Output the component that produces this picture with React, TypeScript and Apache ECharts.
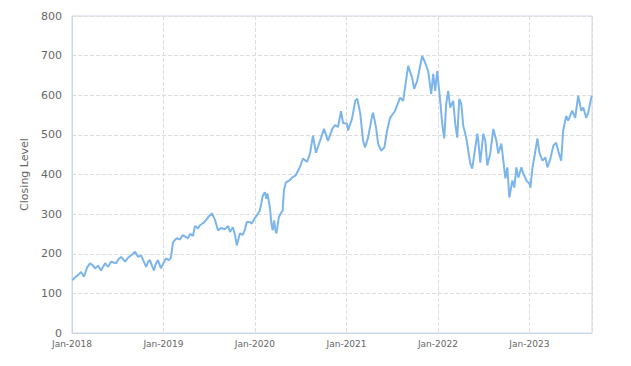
import React, { useEffect, useRef } from "react";
import * as echarts from "echarts";

const dates: string[] = [
  "2018-01-02","2018-01-13","2018-01-25","2018-02-06","2018-02-18","2018-03-02","2018-03-14","2018-03-26",
  "2018-04-03","2018-04-15","2018-04-27","2018-05-13","2018-05-25","2018-06-06","2018-06-26","2018-07-04",
  "2018-07-16","2018-08-01","2018-08-13","2018-08-25","2018-09-10","2018-09-22","2018-10-04","2018-10-12",
  "2018-10-24","2018-11-01","2018-11-08","2018-11-16","2018-11-24","2018-12-02","2018-12-10","2018-12-22",
  "2018-12-31",
  "2019-01-11","2019-01-23","2019-01-31","2019-02-08","2019-02-16","2019-02-24","2019-03-08","2019-03-19",
  "2019-04-01","2019-04-09","2019-04-17","2019-04-29","2019-05-07","2019-05-19","2019-05-27","2019-06-08",
  "2019-06-20","2019-06-28","2019-07-14","2019-07-26","2019-08-07","2019-08-19","2019-09-04","2019-09-16",
  "2019-09-24","2019-10-05","2019-10-13","2019-10-21","2019-11-02","2019-11-14","2019-11-22","2019-11-30",
  "2019-12-12","2019-12-20",
  "2020-01-01","2020-01-09","2020-01-21","2020-02-02","2020-02-10","2020-02-16","2020-02-20","2020-03-01",
  "2020-03-07","2020-03-12","2020-03-18","2020-03-22","2020-03-27","2020-04-06","2020-04-14","2020-04-21",
  "2020-04-26","2020-05-04","2020-05-18","2020-05-30","2020-06-11","2020-06-29","2020-07-11","2020-07-27",
  "2020-08-08","2020-08-20","2020-09-01","2020-09-09","2020-09-20","2020-10-03","2020-10-19","2020-11-05",
  "2020-11-16","2020-11-28","2020-12-10","2020-12-18",
  "2021-01-03","2021-01-07","2021-01-23","2021-02-05","2021-02-13","2021-02-25","2021-03-08","2021-03-16",
  "2021-03-28","2021-04-13","2021-04-17","2021-04-29","2021-05-07","2021-05-19","2021-06-01","2021-06-12",
  "2021-06-24","2021-07-14","2021-08-03","2021-08-15","2021-09-04","2021-09-20","2021-09-28","2021-10-10",
  "2021-10-30","2021-11-11","2021-11-23","2021-12-05","2021-12-13","2021-12-21","2021-12-29",
  "2022-01-10","2022-01-18","2022-01-26","2022-02-03","2022-02-11","2022-02-19","2022-03-03","2022-03-11",
  "2022-03-19","2022-03-27","2022-04-04","2022-04-12","2022-04-24","2022-05-02","2022-05-10","2022-05-18",
  "2022-05-30","2022-06-07","2022-06-11","2022-06-19","2022-07-01","2022-07-09","2022-07-17","2022-07-29",
  "2022-08-10","2022-08-22","2022-08-30","2022-09-11","2022-09-19","2022-09-27","2022-10-05","2022-10-13",
  "2022-10-25","2022-11-02","2022-11-10","2022-11-18","2022-11-30","2022-12-08","2022-12-20",
  "2023-01-01","2023-01-05","2023-01-13","2023-01-25","2023-02-02","2023-02-10","2023-02-22","2023-03-06",
  "2023-03-14","2023-03-26","2023-04-07","2023-04-18","2023-04-26","2023-05-08","2023-05-16","2023-05-28",
  "2023-06-05","2023-06-21","2023-07-03","2023-07-15","2023-07-27","2023-08-04","2023-08-16","2023-08-24",
  "2023-09-05","2023-09-08"
];

const closing: number[] = [
  133,140,146,154,142,165,176,170,
  163,170,158,176,167,180,176,185,
  192,180,190,196,205,192,196,184,
  167,180,184,170,158,175,184,163,
  175,
  188,184,190,228,235,239,236,247,
  242,239,250,245,270,264,272,277,
  285,292,302,285,259,265,262,270,
  255,267,250,221,251,248,260,280,
  280,276,
  290,297,309,347,355,339,352,318,
  277,259,284,264,251,293,302,309,
  360,380,385,393,397,419,440,432,
  452,498,455,470,490,515,485,515,
  525,520,560,530,
  528,511,541,586,591,553,486,468,
  493,548,556,518,478,460,468,511,
  543,561,594,586,674,644,616,636,
  699,682,661,603,654,611,661,
  586,528,491,579,611,569,586,528,
  493,591,579,523,493,460,428,415,
  468,503,486,430,503,486,423,453,
  515,486,453,478,435,390,418,342,
  385,367,418,392,418,402,385,
  377,367,415,460,491,455,435,443,
  418,440,473,480,460,435,511,548,
  536,561,543,599,561,569,543,556,
  594,598
];

const yTicks: number[] = [0, 100, 200, 300, 400, 500, 600, 700, 800];
const xMin = "2018-01-01";
const xMax = "2023-09-08";
const monthNames = ["Jan","Feb","Mar","Apr","May","Jun","Jul","Aug","Sep","Oct","Nov","Dec"];

export default function App() {
  const ref = useRef<HTMLDivElement>(null);
  useEffect(() => {
    if (!ref.current) return;
    const chart = echarts.init(ref.current, undefined, { renderer: "svg" });
    const font = "'DejaVu Sans', sans-serif";
    chart.setOption({
      animation: false,
      grid: {
        left: 64, right: 31, top: 8, bottom: 25,
        show: true, borderColor: "#ccd6eb", borderWidth: 1,
      },
      xAxis: {
        type: "time",
        min: xMin,
        max: xMax,
        minInterval: 365 * 24 * 3600 * 1000,
        maxInterval: 366 * 24 * 3600 * 1000,
        axisLine: { show: true, lineStyle: { color: "#ccd6eb" } },
        axisTick: { show: false },
        axisLabel: {
          color: "#666",
          fontSize: 9,
          fontFamily: font,
          margin: 6,
          hideOverlap: false,
          formatter: (v: number) => {
            const d = new Date(v);
            return monthNames[d.getMonth()] + "-" + d.getFullYear();
          },
        },
        splitLine: { show: true, lineStyle: { color: "#ddd", type: "dashed" } },
      },
      yAxis: {
        type: "value",
        min: yTicks[0],
        max: yTicks[yTicks.length - 1],
        interval: 100,
        name: "Closing Level",
        nameLocation: "middle",
        nameGap: 42,
        nameTextStyle: { color: "#666", fontSize: 11, fontFamily: font },
        axisLine: { show: true, lineStyle: { color: "#ccd6eb" } },
        axisTick: { show: false },
        axisLabel: { color: "#666", fontSize: 11, fontFamily: font, margin: 10 },
        splitLine: { show: true, lineStyle: { color: "#ddd", type: "dashed" } },
      },
      series: [
        {
          type: "line",
          data: dates.map((d, i) => [d, closing[i]]),
          showSymbol: false,
          symbol: "none",
          lineStyle: { color: "#7cb5ec", width: 2 },
          itemStyle: { color: "#7cb5ec" },
        },
      ],
    });
    return () => chart.dispose();
  }, []);
  return <div ref={ref} style={{ width: 615, height: 350 }} />;
}
